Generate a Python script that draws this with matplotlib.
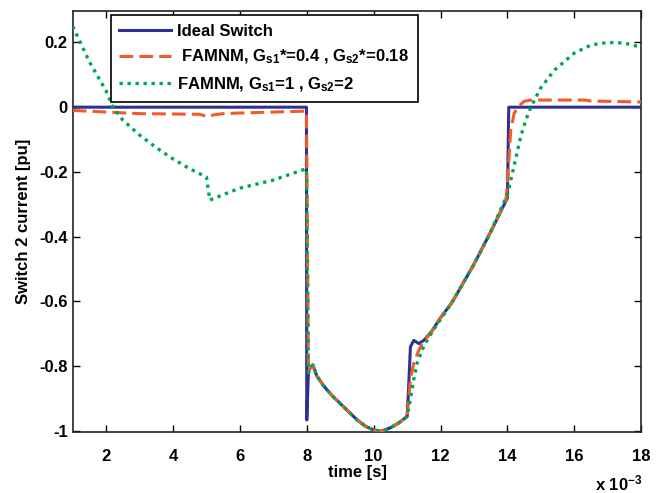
import matplotlib
matplotlib.use("Agg")
import matplotlib.pyplot as plt
from matplotlib.ticker import FuncFormatter, FixedLocator
import numpy as np

plt.rcParams['font.family'] = ['Liberation Sans', 'DejaVu Sans']
plt.rcParams['font.weight'] = 'bold'
plt.rcParams['axes.unicode_minus'] = False
plt.rcParams['mathtext.fontset'] = 'custom'
plt.rcParams['mathtext.rm'] = 'Liberation Sans:bold'
plt.rcParams['mathtext.it'] = 'Liberation Sans:bold'
plt.rcParams['mathtext.bf'] = 'Liberation Sans:bold'

# time in ms
ideal_t = [1.0, 7.99, 8.0, 8.02, 8.05, 8.1, 8.18, 8.3, 8.5, 8.75, 9.0, 9.25, 9.5, 9.75, 10.0,
           10.25, 10.5, 10.75, 11.0, 11.03, 11.1, 11.2, 11.35, 11.5, 11.75, 12.0, 12.33, 12.5,
           13.0, 13.5, 14.0, 14.04, 18.0]
ideal_y = [0.0, 0.0, -0.966, -0.90, -0.82, -0.805, -0.796, -0.83, -0.86, -0.89, -0.915, -0.94,
           -0.965, -0.985, -0.997, -1.0, -0.99, -0.975, -0.955, -0.90, -0.74, -0.72, -0.73, -0.72,
           -0.69, -0.65, -0.605, -0.575, -0.485, -0.385, -0.28, 0.0, 0.0]

famnm1_t = [1.0, 2.0, 3.0, 4.0, 4.8, 5.05, 5.2, 5.5, 6.0, 7.0, 7.99, 8.05, 8.1, 8.18, 8.3, 8.5,
            8.75, 9.0, 9.25, 9.5, 9.75, 10.0, 10.25, 10.5, 10.75, 11.0, 11.1, 11.2, 11.35, 11.45,
            11.75, 12.0, 12.33, 12.5, 13.0, 13.5, 13.95, 14.0, 14.05, 14.1, 14.2, 14.3, 14.5, 14.7,
            16.3, 16.5, 18.0]
famnm1_y = [-0.01, -0.015, -0.02, -0.021, -0.022, -0.03, -0.024, -0.02, -0.018, -0.015, -0.012,
            -0.82, -0.805, -0.796, -0.83, -0.86, -0.89, -0.915, -0.94, -0.965, -0.985, -0.997,
            -1.0, -0.99, -0.975, -0.955, -0.84, -0.79, -0.75, -0.73, -0.69, -0.65, -0.605, -0.575,
            -0.485, -0.385, -0.29, -0.24, -0.15, -0.07, -0.02, 0.0, 0.018, 0.022, 0.022, 0.019,
            0.016]

famnm2_t = [1.0, 1.5, 2.0, 2.2, 2.5, 3.0, 3.5, 4.0, 4.5, 5.0, 5.1, 5.5, 6.0, 7.0, 7.99, 8.05,
            8.1, 8.18, 8.3, 8.5, 8.75, 9.0, 9.25, 9.5, 9.75, 10.0, 10.25, 10.5, 10.75, 11.0, 11.1,
            11.2, 11.3, 11.45, 11.6, 11.8, 12.0, 12.33, 12.5, 13.0, 13.5, 14.0, 14.2, 14.4, 14.55,
            14.7, 15.0, 15.4, 16.0, 16.5, 17.0, 17.5, 18.0]
famnm2_y = [0.25, 0.14, 0.05, 0.0, -0.04, -0.086, -0.125, -0.16, -0.19, -0.216, -0.287, -0.27,
            -0.25, -0.225, -0.19, -0.82, -0.805, -0.796, -0.83, -0.86, -0.89, -0.915, -0.94, -0.965,
            -0.985, -0.997, -1.0, -0.99, -0.975, -0.955, -0.9, -0.84, -0.79, -0.75, -0.72, -0.685,
            -0.655, -0.605, -0.575, -0.485, -0.385, -0.27, -0.18, -0.09, -0.04, 0.0, 0.06, 0.114,
            0.167, 0.192, 0.2, 0.198, 0.185]

labels = ['Ideal Switch',
          r' FAMNM, G$_{s1}$*=0.4 , G$_{s2}$*=0.18',
          r'FAMNM, G$_{s1}$=1 , G$_{s2}$=2']
x_ticks = [2, 4, 6, 8, 10, 12, 14, 16, 18]
y_ticks = [0.2, 0, -0.2, -0.4, -0.6, -0.8, -1]

FS = 12

fig = plt.figure(figsize=(6.61, 4.93), dpi=100)
ax = fig.add_axes([0.110, 0.1237, 0.860, 0.854])

ax.plot(np.array(ideal_t) * 1e-3, ideal_y, color='#2e3192', lw=2.2, label=labels[0], zorder=3)
ax.plot(np.array(famnm1_t) * 1e-3, famnm1_y, color='#f15a29', lw=2.2, ls=(0, (4.5, 2)),
        label=labels[1], zorder=4)
ax.plot(np.array(famnm2_t) * 1e-3, famnm2_y, color='#00a651', lw=2.4, ls=(0, (1, 1.4)),
        label=labels[2], zorder=5)

ax.set_xlim(1.0e-3, 18e-3)
ax.set_ylim(-1.003, 0.297)
ax.xaxis.set_major_locator(FixedLocator([v * 1e-3 for v in x_ticks]))
ax.xaxis.set_major_formatter(FuncFormatter(lambda v, p: '%g' % round(v * 1e3, 6)))
ax.yaxis.set_major_locator(FixedLocator(y_ticks))
ax.yaxis.set_major_formatter(FuncFormatter(lambda v, p: '%g' % round(v, 6)))

ax.tick_params(direction='in', top=True, right=True, length=5, width=1, labelsize=FS)
ax.tick_params(axis='x', pad=12)
ax.tick_params(axis='y', pad=3.5)
for lab in ax.get_xticklabels() + ax.get_yticklabels():
    lab.set_fontweight('bold')
for s in ax.spines.values():
    s.set_linewidth(1.2)
    s.set_color('#222222')

ax.set_xlabel('time [s]', fontsize=FS, fontweight='bold', labelpad=1)
ax.set_ylabel('Switch 2 current [pu]', fontsize=FS, fontweight='bold', labelpad=6)
fig.text(0.900, 0.006, 'x 10$^{-3}$', fontsize=FS, fontweight='bold')

leg = ax.legend(loc='upper left', bbox_to_anchor=(0.067, 0.990), borderaxespad=0,
                fancybox=False, framealpha=1, edgecolor='black',
                handlelength=3.1, borderpad=0.5, labelspacing=0.55, handletextpad=0.4,
                prop={'weight': 'bold', 'size': FS})
leg.get_frame().set_linewidth(1.2)

fig.savefig('out.png', dpi=100)
